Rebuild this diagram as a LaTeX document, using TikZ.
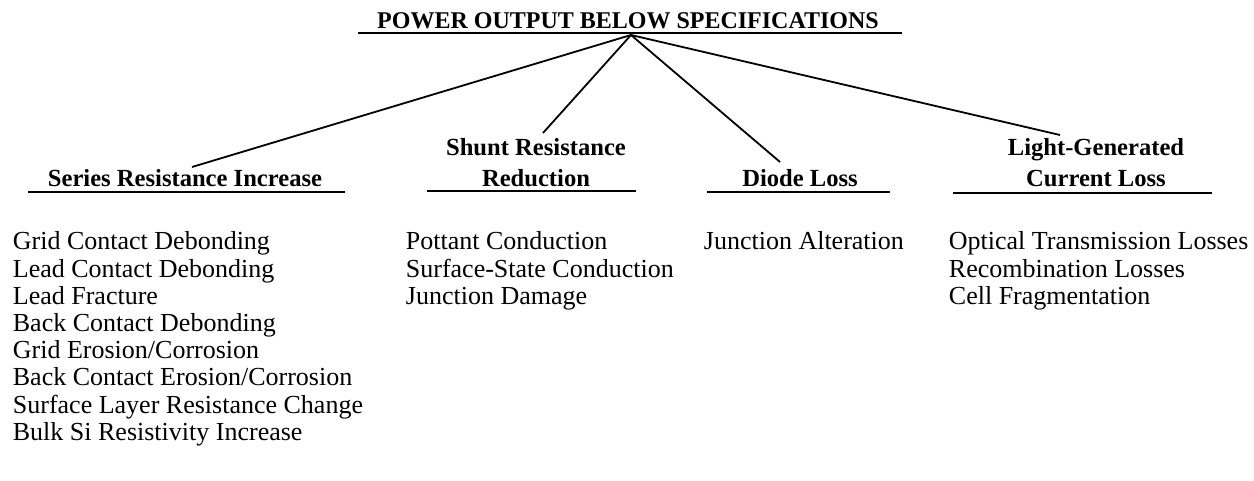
\documentclass[tikz,border=0pt]{standalone}
\usepackage{fontspec}
\setmainfont{Liberation Serif}

\begin{document}
\begin{tikzpicture}[x=0.5pt,y=-0.5pt,line width=0.9,
    head/.style={font=\bfseries\fontsize{12.3}{15.5}\selectfont,inner sep=0pt,align=center,anchor=south},
    items/.style={font=\fontsize{13}{13.6}\selectfont,inner sep=0pt,align=left,anchor=north west}]
    \useasboundingbox (0,0) rectangle (1254,481);
    % top event
    \node[head,anchor=base,font=\bfseries\fontsize{12}{14}\selectfont] (pob) at (628,29) {POWER OUTPUT BELOW SPECIFICATIONS};
    \draw (pob.base) ++(-270,4) -- ++(544,0);
    \coordinate (apex) at (631,35);
    % branches
    \node[head] (sri) at (185,188) {Series Resistance Increase};
    \node[head] (srr) at (536,188) {Shunt Resistance\\Reduction};
    \node[head] (dl) at (800,188) {Diode Loss};
    \node[head] (lgc) at (1096,188) {Light-Generated\\Current Loss};
    \draw (sri.south) ++(-157,4) -- ++(317,0);
    \draw (srr.south) ++(-109,3) -- ++(209,0);
    \draw (dl.south) ++(-93,4) -- ++(183,0);
    \draw (lgc.south) ++(-143,5) -- ++(259,0);
    \coordinate (sri-top) at (192,167);
    \coordinate (srr-top) at (543,133);
    \coordinate (dl-top) at (780,162);
    \coordinate (lgc-top) at (1060,135);
    \foreach \b in {sri,srr,dl,lgc}
        \draw (apex) -- (\b-top);
    % causes
    \node[items] (sri-list) at (12,231) {Grid Contact Debonding\\Lead Contact Debonding\\Lead Fracture\\Back Contact Debonding\\Grid Erosion/Corrosion\\Back Contact Erosion/Corrosion\\Surface Layer Resistance Change\\Bulk Si Resistivity Increase};
    \node[items] (srr-list) at (405,231) {Pottant Conduction\\Surface-State Conduction\\Junction Damage};
    \node[items] (dl-list) at (703,231) {Junction Alteration};
    \node[items] (lgc-list) at (948,231) {Optical Transmission Losses\\Recombination Losses\\Cell Fragmentation};
\end{tikzpicture}
\end{document}
